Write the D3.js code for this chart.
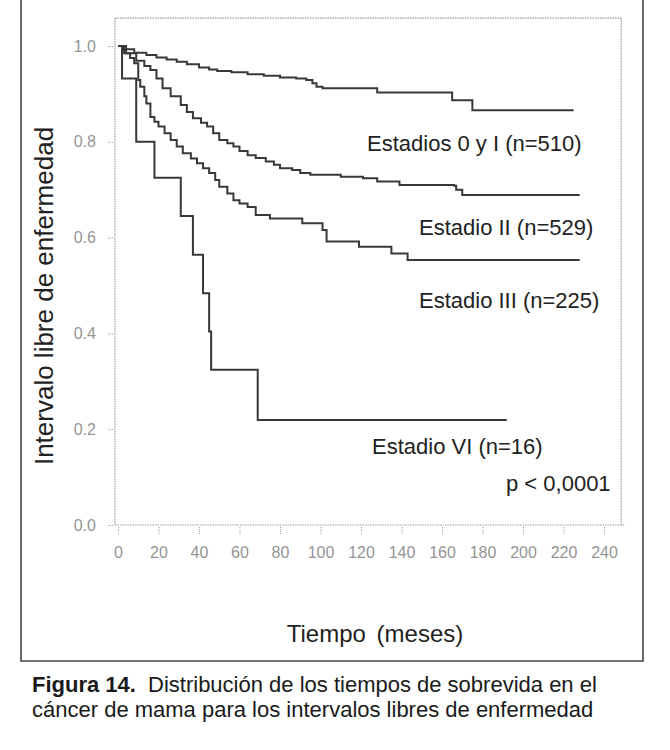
<!DOCTYPE html>
<html>
<head>
<meta charset="utf-8">
<script src="https://cdn.jsdelivr.net/npm/d3@7"></script>
<style>
  body { margin: 0; background: #fff; }
  svg { display: block; font-family: "Liberation Sans", Arial, sans-serif; }
</style>
</head>
<body>
<svg id="chart" width="670" height="750"></svg>
<script>
// Kaplan-Meier steps: [month, survival]
const estadio0y1 = [[0,1.0],[3,0.993],[8,0.986],[14,0.981],[19,0.976],[24,0.972],[29,0.967],[34,0.962],[40,0.955],[45,0.951],[49,0.948],[56,0.945],[64,0.941],[72,0.938],[80,0.934],[88,0.932],[93,0.929],[96,0.922],[98,0.915],[101,0.912],[128,0.903],[165,0.887],[175,0.866],[225,0.866]]
const estadio2 = [[0,1.0],[4,0.985],[9,0.969],[13,0.958],[16,0.950],[19,0.932],[22,0.912],[26,0.895],[31,0.877],[34,0.862],[37,0.849],[41,0.840],[44,0.832],[47,0.818],[50,0.804],[54,0.797],[57,0.790],[60,0.781],[64,0.772],[68,0.766],[73,0.759],[77,0.752],[80,0.745],[86,0.741],[90,0.735],[95,0.731],[110,0.727],[121,0.724],[128,0.717],[139,0.710],[166,0.708],[167,0.700],[170,0.689],[228,0.689]]
const estadio3 = [[0,1.0],[3,0.985],[6,0.975],[8,0.964],[10,0.929],[11,0.915],[13,0.895],[14,0.880],[16,0.852],[18,0.842],[20,0.832],[23,0.818],[26,0.804],[29,0.790],[32,0.776],[36,0.765],[39,0.755],[42,0.745],[45,0.735],[48,0.720],[50,0.706],[54,0.692],[57,0.678],[60,0.671],[64,0.664],[68,0.647],[75,0.640],[91,0.630],[101,0.616],[103,0.592],[119,0.581],[135,0.567],[143,0.553],[228,0.553]]
const estadio4 = [[0,1.0],[2,0.932],[9,0.80],[18,0.725],[31,0.645],[37,0.564],[42,0.484],[45,0.404],[46,0.324],[69,0.219],[192,0.219]]

const xTicks = [0,20,40,60,80,100,120,140,160,180,200,220,240]
const yTicks = [0,0.2,0.4,0.6,0.8,1.0]

const labels = [
    {text: 'Estadios 0 y I (n=510)', x: 367, y: 151},
    {text: 'Estadio II (n=529)', x: 419, y: 235},
    {text: 'Estadio III (n=225)', x: 419, y: 308},
    {text: 'Estadio VI (n=16)', x: 372, y: 454},
    {text: 'p < 0,0001', x: 506, y: 491}
]

const svg = d3.select('#chart')

const x = d3.scaleLinear().domain([0, 240]).range([118, 604])
const y = d3.scaleLinear().domain([0, 1]).range([525, 46])
const xEnd = 248.5   // right edge of the plot box
const yTop = 1.058   // top edge of the plot box

// outer frame of the figure
svg.append('path')
    .attr('d', 'M21,0 V661 H643 V0')
    .attr('fill', 'none')
    .attr('stroke', '#444')
    .attr('stroke-width', 1.6)

// dotted plot box
const box = svg.append('g')
    .attr('fill', 'none')
    .attr('stroke', '#9a9a9a')
    .attr('stroke-width', 1.2)
    .attr('stroke-dasharray', '1.5,1')
box.append('line')
    .attr('x1', x(-1.5)).attr('x2', x(-1.5))
    .attr('y1', y(yTop)).attr('y2', y(0))
box.append('line')
    .attr('x1', x(-1.5)).attr('x2', x(xEnd + 2))
    .attr('y1', y(0)).attr('y2', y(0))
box.append('line')
    .attr('x1', x(-1.5)).attr('x2', x(xEnd))
    .attr('y1', y(yTop)).attr('y2', y(yTop))
box.append('line')
    .attr('x1', x(xEnd)).attr('x2', x(xEnd))
    .attr('y1', y(yTop)).attr('y2', y(0))

// axes
const xAxis = svg.append('g')
    .attr('transform', `translate(0,${y(0) + 2})`)
    .call(d3.axisBottom(x).tickValues(xTicks).tickSize(7).tickPadding(13).tickFormat(d3.format('d')))
const yAxis = svg.append('g')
    .attr('transform', `translate(${x(-1.5) - 2},0)`)
    .call(d3.axisLeft(y).tickValues(yTicks).tickSize(6).tickPadding(11).tickFormat(d3.format('.1f')))

for (const ax of [xAxis, yAxis]) {
    ax.select('.domain').remove()
    ax.selectAll('line').attr('stroke', '#9a9a9a').attr('stroke-dasharray', '1,1')
    ax.selectAll('text')
        .attr('fill', '#959595')
        .style('font-size', '16px')
        .style('font-family', '"Liberation Sans", Arial, sans-serif')
}

// survival curves
const line = d3.line()
    .x(d => x(d[0]))
    .y(d => y(d[1]))
    .curve(d3.curveStepAfter)

svg.selectAll('path.curve')
    .data([estadio0y1, estadio2, estadio3, estadio4])
    .enter()
    .append('path')
    .attr('class', 'curve')
    .attr('d', line)
    .attr('fill', 'none')
    .attr('stroke', '#383838')
    .attr('stroke-width', 2)

// curve labels
svg.selectAll('text.lbl')
    .data(labels)
    .enter()
    .append('text')
    .attr('class', 'lbl')
    .attr('x', d => d.x)
    .attr('y', d => d.y)
    .attr('fill', '#222')
    .style('font-size', '22px')
    .text(d => d.text)

// axis titles
svg.append('text')
    .attr('transform', 'translate(53,296) rotate(-90)')
    .attr('text-anchor', 'middle')
    .attr('fill', '#222')
    .style('font-size', '26px')
    .text('Intervalo libre de enfermedad')

svg.append('text')
    .attr('x', 375)
    .attr('y', 642)
    .attr('text-anchor', 'middle')
    .attr('fill', '#222')
    .style('font-size', '24px')
    .style('word-spacing', '4px')
    .text('Tiempo (meses)')

// caption
const cap = svg.append('text')
    .attr('x', 32)
    .attr('y', 692)
    .attr('fill', '#1a1a1a')
    .style('font-size', '22px')
cap.append('tspan').style('font-weight', 'bold').text('Figura 14.')
cap.append('tspan').attr('dx', 6).text(' Distribución de los tiempos de sobrevida en el')
svg.append('text')
    .attr('x', 32)
    .attr('y', 717)
    .attr('fill', '#1a1a1a')
    .style('font-size', '22px')
    .text('cáncer de mama para los intervalos libres de enfermedad')
</script>
</body>
</html>
